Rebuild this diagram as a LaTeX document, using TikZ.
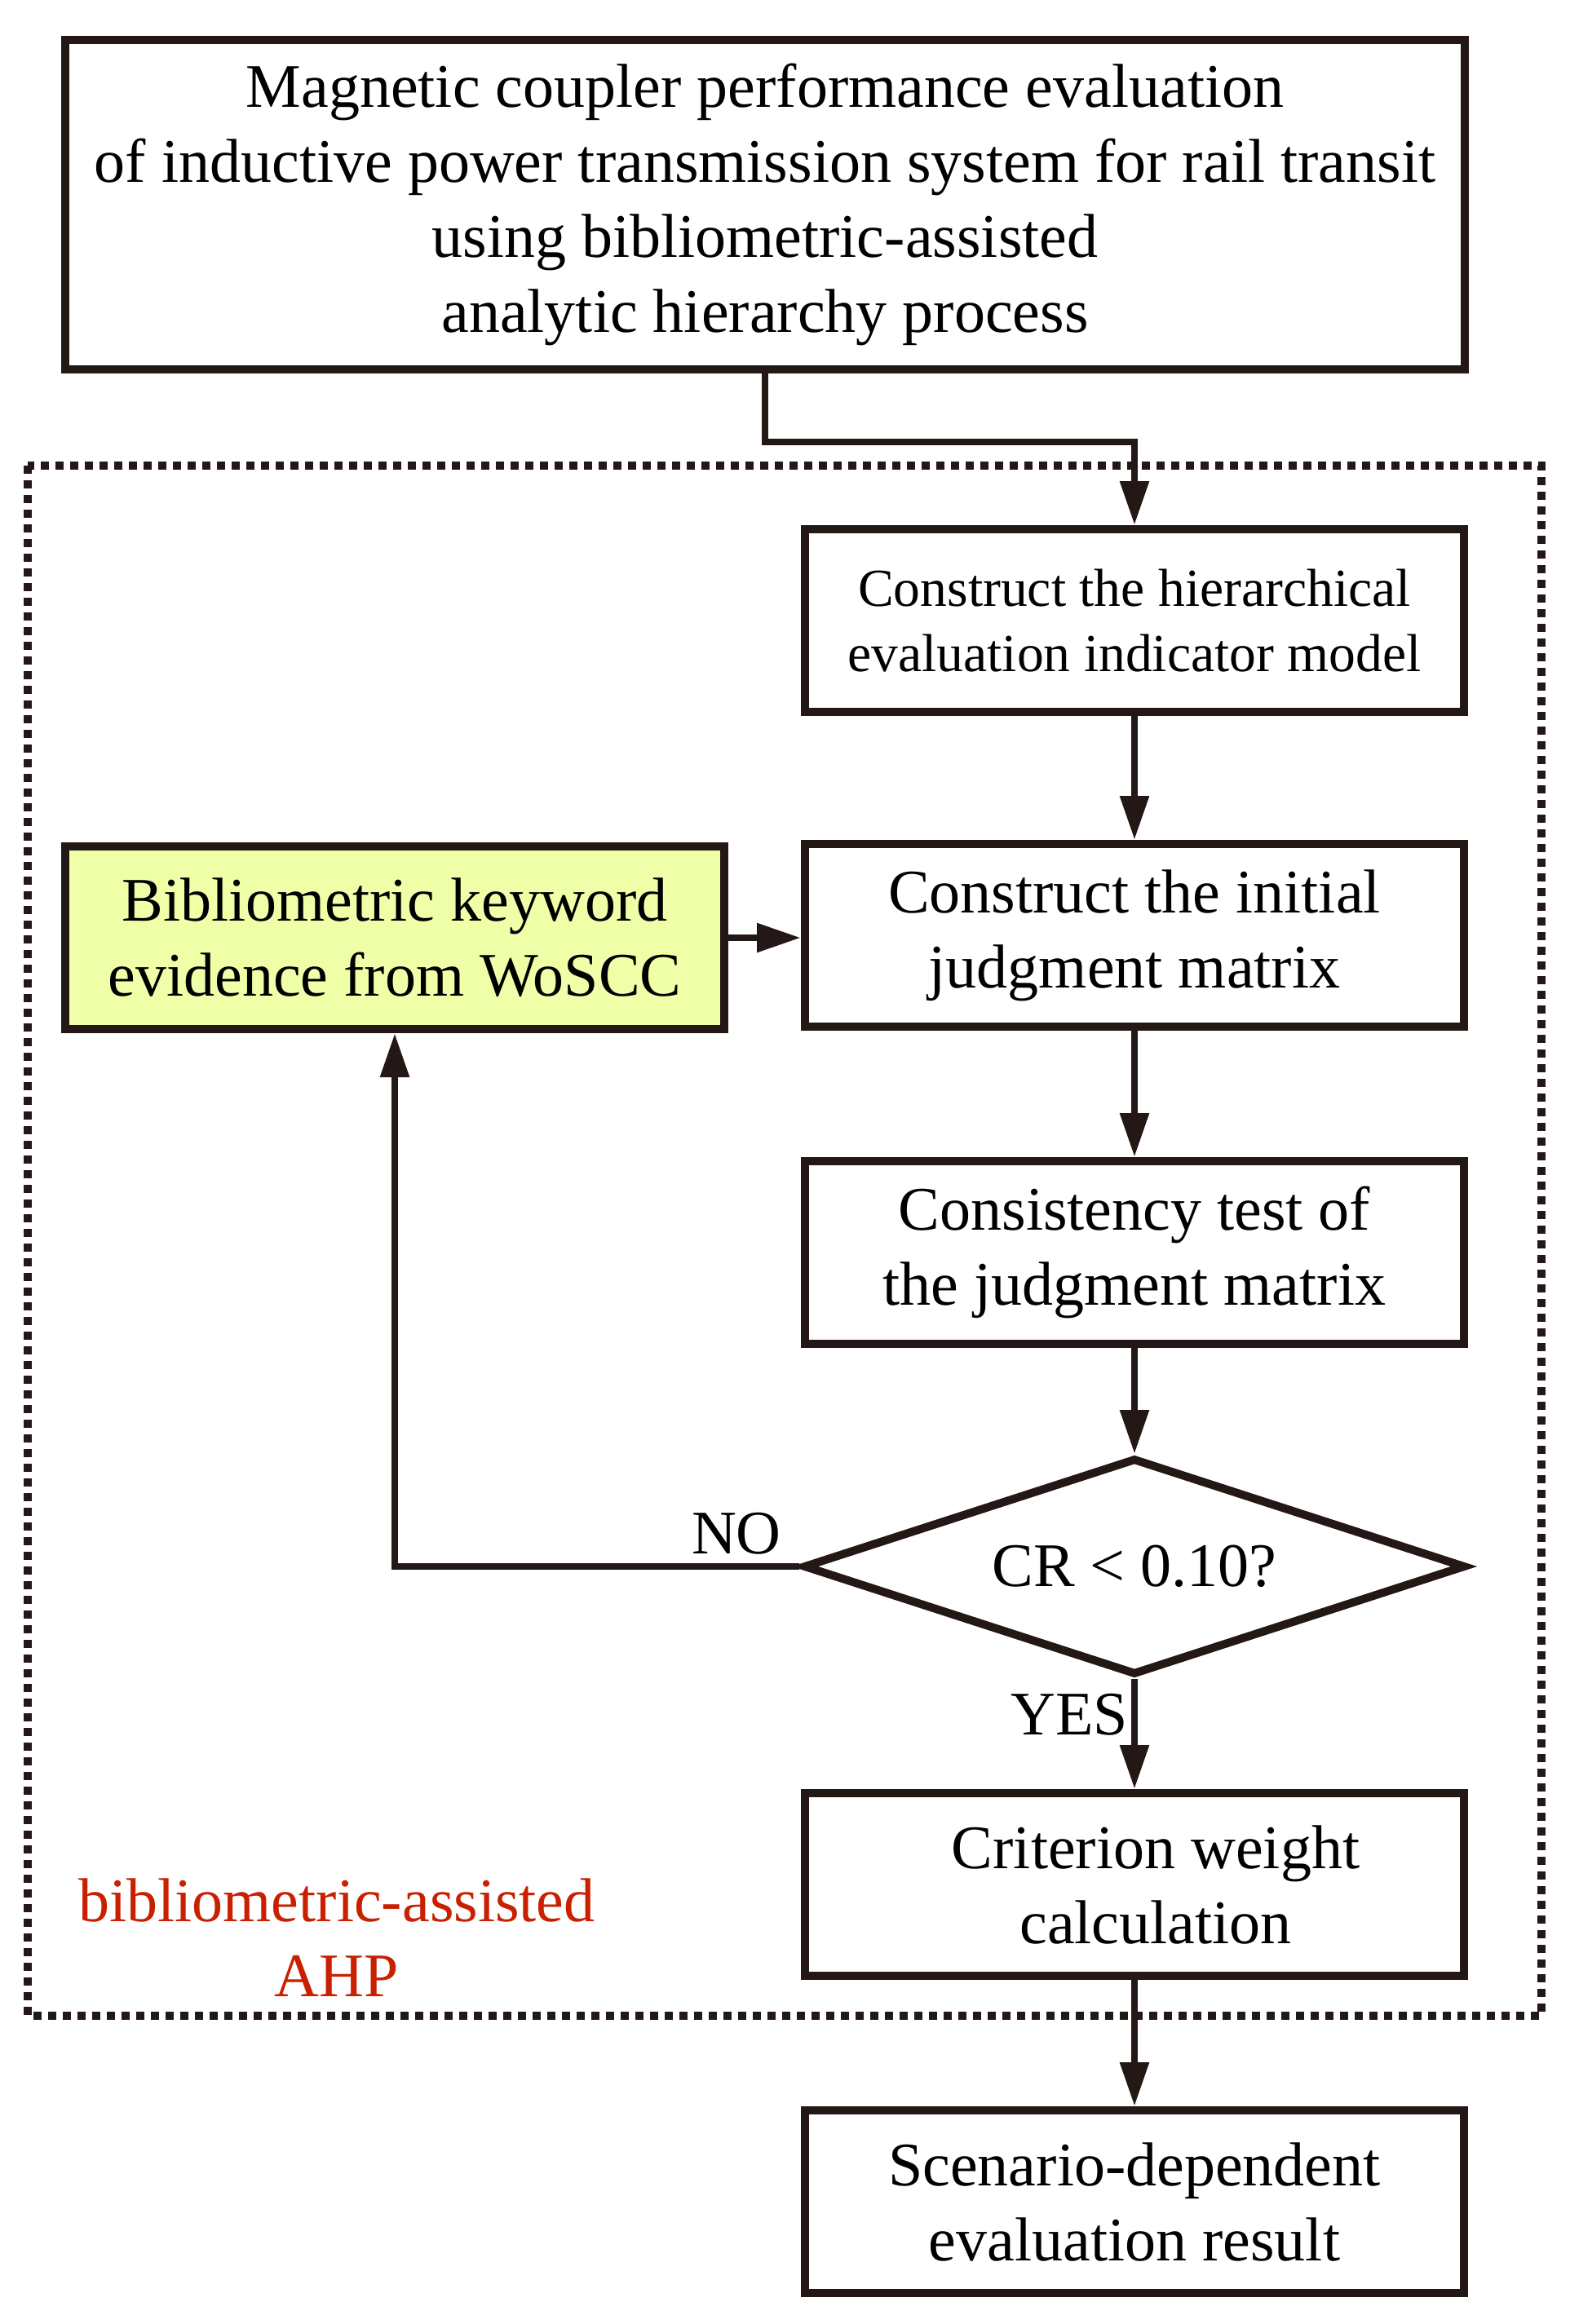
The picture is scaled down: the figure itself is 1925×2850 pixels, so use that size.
\documentclass[tikz,border=0pt]{standalone}
\usepackage{fontspec}
\setmainfont{Liberation Serif}
\usetikzlibrary{shapes.geometric,arrows.meta}
\definecolor{ink}{HTML}{231815}
\definecolor{evid}{HTML}{EEFFA8}
\definecolor{ahpred}{RGB}{200,32,0}
\tikzset{
  box/.style={draw=ink, line width=2.5pt, rectangle, minimum width=202pt, minimum height=56pt, inner sep=0pt, align=center, text=black, font=\fontsize{19}{23}\selectfont},
  conn/.style={draw=ink, line width=2.2pt, -{Triangle[length=13.5pt,width=8.5pt]}},
  lbl/.style={inner sep=0pt, font=\fontsize{19}{23}\selectfont},
  frame/.style={draw=ink, line width=2.5pt, dash pattern=on 2.5pt off 2pt}
}
\begin{document}
\begin{tikzpicture}[x=0.25pt,y=-0.25pt]
\useasboundingbox[fill=white] (0,0) rectangle (1925,2850);
% dotted frame
\draw[frame] (34,571) rectangle (1890,2472);
% nodes
\node[box, minimum width=429pt, minimum height=101pt] (top) at (938,251)
  {Magnetic coupler performance evaluation\\of inductive power transmission system for rail transit\\using bibliometric-assisted\\analytic hierarchy process};
\node[box, font=\fontsize{16.4}{20}\selectfont] (hier) at (1391,761)
  {Construct the hierarchical\\evaluation indicator model};
\node[box] (init) at (1391,1147) {Construct the initial\\judgment matrix};
\node[box, fill=evid] (evi) at (484,1150) {Bibliometric keyword\\evidence from WoSCC};
\node[box] (cons) at (1391,1536) {Consistency test of\\the judgment matrix};
\node[draw=ink, line width=2.5pt, diamond, aspect=3.05, minimum width=203pt, minimum height=66.5pt, inner sep=0pt, font=\fontsize{19}{23}\selectfont] (dia) at (1391,1921) {CR < 0.10?};
\node[box] (crit) at (1391,2311) {\hspace*{13pt}Criterion weight\\\hspace*{13pt}calculation};
\node[box] (scen) at (1391,2700) {Scenario-dependent\\evaluation result};
% labels
\node[lbl] (no) at (903,1881) {NO};
\node[lbl] (yes) at (1311,2103) {YES};
\node[lbl, align=center, text=ahpred] (ahp) at (413,2376) {bibliometric-assisted\\AHP};
% connectors
\coordinate (j1) at (1391,542);
\draw[conn] (top.south) |- (j1) -- (hier.north);
\draw[conn] (hier.south) -- (init.north);
\draw[conn] (evi.east) -- (evi.east -| init.west);
\draw[conn] (init.south) -- (cons.north);
\draw[conn] (cons.south) -- (dia.north);
\draw[conn] (dia.west) -| (evi.south);
\draw[conn] (dia.south) -- (crit.north);
\draw[conn] (crit.south) -- (scen.north);
\end{tikzpicture}
\end{document}
